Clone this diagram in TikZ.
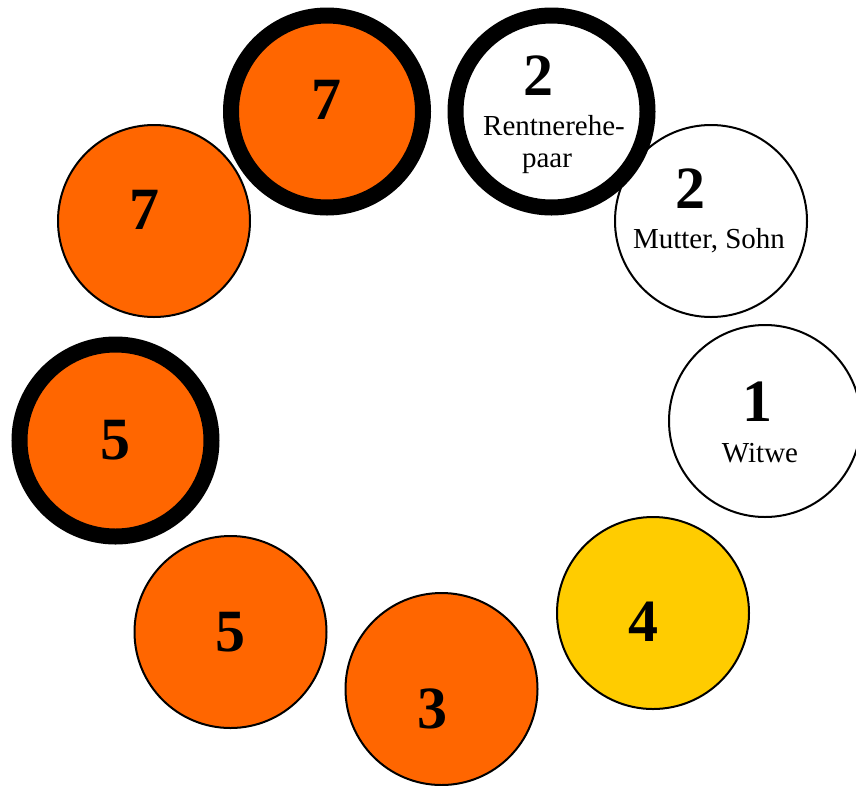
\documentclass[tikz,border=0pt]{standalone}
\usepackage{fontspec}
\setmainfont{Liberation Serif}
\definecolor{orng}{HTML}{FF6600}
\definecolor{yllw}{HTML}{FFCC00}
\begin{document}
\begin{tikzpicture}[x=1pt,y=-1pt,
  disc/.style={circle,draw=black,line width=2pt,minimum size=192pt,inner sep=0pt},
  thickdisc/.style={disc,line width=16pt},
  num/.style={font=\fontsize{60}{60}\selectfont\bfseries,inner sep=0pt},
  lbl/.style={font=\fontsize{29}{32}\selectfont,inner sep=0pt,anchor=base}]
\useasboundingbox (0,0) rectangle (856,785);
% thin circles
\node[disc,fill=white] (c3) at (711,221) {};
\node[disc,fill=white] (c4) at (765,421) {};
\node[disc,fill=yllw] (c5) at (653,613) {};
\node[disc,fill=orng] (c6) at (441.5,689) {};
\node[disc,fill=orng] (c7) at (230.5,632) {};
\node[disc,fill=orng] (c9) at (154,221) {};
% thick circles
\node[thickdisc,fill=orng] (c1) at (327,111.5) {};
\node[thickdisc,fill=white] (c2) at (551.5,111.5) {};
\node[thickdisc,fill=orng] (c8) at (115.5,440.5) {};
% numbers
\node[num] (n1) at (326,100) {7};
\node[num] (n2) at (538,76) {2};
\node[num] (n3) at (690,189) {2};
\node[num] (n4) at (757,402) {1};
\node[num] (n5) at (643,622) {4};
\node[num] (n6) at (432,709) {3};
\node[num] (n7) at (230,632) {5};
\node[num] (n8) at (115,440) {5};
\node[num] (n9) at (144,210) {7};
% labels
\node[lbl] (t2a) at (554,135) {Rentnerehe-};
\node[lbl] (t2b) at (547,167) {paar};
\node[lbl] (t3) at (709,248) {Mutter, Sohn};
\node[lbl] (t4) at (760,462) {Witwe};
\end{tikzpicture}
\end{document}
